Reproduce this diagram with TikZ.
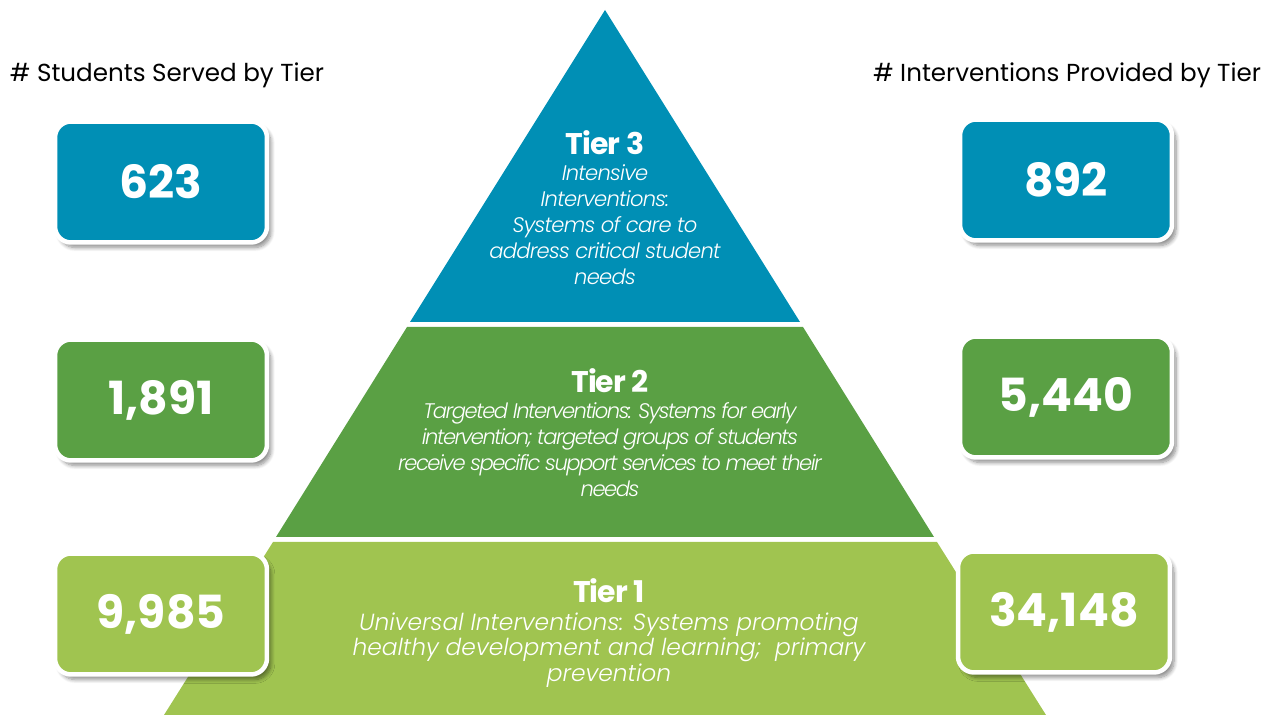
\documentclass[tikz,border=0pt]{standalone}
\usepackage{fontspec}
\setmainfont{Poppins}
\newfontfamily\lightfont{Poppins Light}
\usetikzlibrary{shadows.blur}
\definecolor{tierblue}{RGB}{0,143,181}
\definecolor{tiergreen}{RGB}{90,160,68}
\definecolor{tierlime}{RGB}{160,196,80}

\begin{document}
\begin{tikzpicture}[x=0.02cm, y=-0.02cm,
    countbox/.style={draw=white, line width=0.09cm, rounded corners=0.32cm,
      minimum width=4.24cm, minimum height=2.42cm, text=white,
      font=\bfseries\fontsize{26}{30}\selectfont,
      blur shadow={shadow xshift=0.08cm, shadow yshift=-0.1cm,
        shadow opacity=45, shadow blur steps=8}},
    tiertitle/.style={text=white,
      font=\bfseries\fontsize{17}{20}\selectfont\addfontfeatures{LetterSpace=-3}},
    tiertext/.style={text=white, align=center,
      font=\lightfont\itshape#1}]
  \useasboundingbox (0,0) rectangle (1275,715);

  % pyramid bands, all edges run out of the apex at (605,10)
  \fill[tierblue] (605,10) -- (800,322) -- (410,322) -- cycle;
  \fill[tiergreen] (407,327) -- (803,327) -- (934,537) -- (276,537) -- cycle;
  \fill[tierlime] (273,542) -- (937,542) -- (1046,715) -- (164,715) -- cycle;

  \node[tiertitle] (t3) at (605,143) {Tier 3};
  \node[tiertext={\fontsize{12}{14.8}\selectfont\addfontfeatures{LetterSpace=-3.5}}] (t3text) at (605,225)
    {Intensive\\Interventions:\\Systems of care to\\address critical student\\needs};
  \node[tiertitle] (t2) at (610,381) {Tier 2};
  \node[tiertext={\fontsize{12}{14.8}\selectfont\addfontfeatures{LetterSpace=-7}}] (t2text) at (610,450)
    {Targeted Interventions: Systems for early\\intervention; targeted groups of students\\receive specific support services to meet their\\needs};
  \node[tiertitle] (t1) at (609,591) {Tier 1};
  \node[tiertext={\fontsize{13.3}{14.5}\selectfont}] (t1text) at (609,650)
    {Universal Interventions: Systems promoting\\healthy development and learning;\ \ primary\\prevention};

  % headings
  \node[font=\fontsize{14}{16}\selectfont] (students) at (167,75) {\# Students Served by Tier};
  \node[font=\fontsize{14}{16}\selectfont] (interv) at (1067,75) {\# Interventions Provided by Tier};

  % counts per tier
  \node[countbox, fill=tierblue] (s3) at (161,182) {623};
  \node[countbox, fill=tiergreen] (s2) at (161,400) {1,891};
  \node[countbox, fill=tierlime] (s1) at (161,614) {9,985};
  \node[countbox, fill=tierblue] (i3) at (1066,180) {892};
  \node[countbox, fill=tiergreen] (i2) at (1066,397) {5,440};
  \node[countbox, fill=tierlime] (i1) at (1064,612) {34,148};
\end{tikzpicture}
\end{document}
